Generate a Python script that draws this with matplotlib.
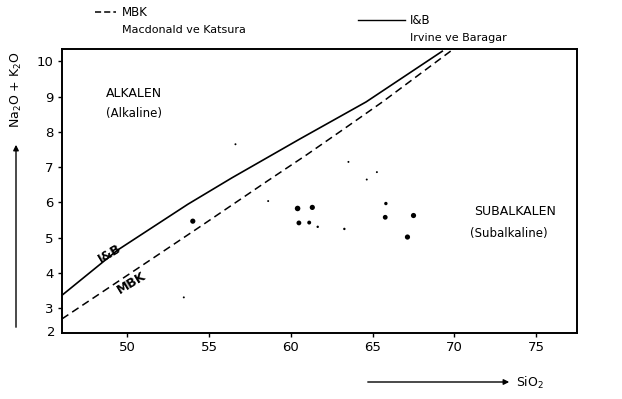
import matplotlib
matplotlib.use("Agg")
import matplotlib.pyplot as plt

# I&B (Irvine ve Baragar) boundary, solid
ib_sio2 = [46.0, 49.4, 53.7, 56.4, 60.55, 64.6, 69.3]
ib_alk = [3.37, 4.65, 5.95, 6.70, 7.80, 8.85, 10.30]

# MBK (Macdonald ve Katsura) boundary, dashed
mbk_sio2 = [46.0, 51.66, 54.4, 58.6, 60.96, 63.2, 65.6, 69.8]
mbk_alk = [2.70, 4.45, 5.30, 6.62, 7.35, 8.07, 8.85, 10.30]

# samples: SiO2, Na2O+K2O, relative dot size
pt_sio2 = [54.0, 60.41, 61.31, 60.49, 61.12, 61.64, 63.27, 65.77, 65.81,
           67.50, 67.13, 58.61, 63.52, 64.64, 65.26, 56.61, 53.45]
pt_alk = [5.47, 5.83, 5.86, 5.42, 5.43, 5.31, 5.25, 5.58, 5.97,
          5.63, 5.02, 6.04, 7.15, 6.65, 6.86, 7.65, 3.31]
pt_size = [14, 16, 14, 12, 8, 3, 3, 12, 6, 14, 14, 2, 2, 2, 2, 2, 2]

x_ticks = [50, 55, 60, 65, 70, 75]
y_ticks = [3, 4, 5, 6, 7, 8, 9, 10]

fig = plt.figure(figsize=(6.22, 3.99), dpi=100)
ax = fig.add_axes([62 / 622, 1 - 333 / 399, (577 - 62) / 622, (333 - 49) / 399])

ax.plot(ib_sio2, ib_alk, color="black", lw=1.2, solid_capstyle="butt")
ax.plot(mbk_sio2, mbk_alk, color="black", lw=1.1, ls=(0, (5, 3)))
ax.scatter(pt_sio2, pt_alk, s=pt_size, color="black", zorder=3, linewidths=0)

ax.set_xlim(46, 77.5)
ax.set_ylim(2.3, 10.35)
ax.set_xticks(x_ticks)
ax.set_yticks(y_ticks)
ax.tick_params(direction="out", length=3, width=1, labelsize=9.5, pad=3)
for s in ax.spines.values():
    s.set_linewidth(1.4)
ax.text(-0.012, 0.0, "2", transform=ax.transAxes, ha="right", va="center", fontsize=9.5)

# region labels
ax.text(50.4, 9.1, "ALKALEN", ha="center", va="center", fontsize=9)
ax.text(50.4, 8.53, "(Alkaline)", ha="center", va="center", fontsize=8.5)
ax.text(73.7, 5.75, "SUBALKALEN", ha="center", va="center", fontsize=9)
ax.text(73.3, 5.13, "(Subalkaline)", ha="center", va="center", fontsize=8.5)

# boundary labels
ax.text(48.9, 4.56, "I&B", ha="center", va="center", fontsize=9, fontweight="bold", rotation=31)
ax.text(50.25, 3.71, "MBK", ha="center", va="center", fontsize=9, fontweight="bold", rotation=31)

# legend on top
fig.add_artist(plt.Line2D([95 / 622, 116 / 622], [1 - 12 / 399, 1 - 12 / 399],
                          color="black", lw=1.1, ls=(0, (4, 2))))
fig.text(122 / 622, 1 - 12 / 399, "MBK", ha="left", va="center", fontsize=8.5)
fig.text(122 / 622, 1 - 30 / 399, "Macdonald ve Katsura", ha="left", va="center", fontsize=8)
fig.add_artist(plt.Line2D([358 / 622, 405 / 622], [1 - 20 / 399, 1 - 20 / 399],
                          color="black", lw=1.0))
fig.text(410 / 622, 1 - 20 / 399, "I&B", ha="left", va="center", fontsize=8.5)
fig.text(410 / 622, 1 - 38 / 399, "Irvine ve Baragar", ha="left", va="center", fontsize=8)

# axis arrows and titles
fig.add_artist(matplotlib.patches.FancyArrowPatch(
    (16 / 622, 1 - 330 / 399), (16 / 622, 1 - 142 / 399),
    transform=fig.transFigure, arrowstyle="-|>", mutation_scale=8, color="black", lw=1.0))
fig.text(16 / 622, 1 - 90 / 399, "Na$_2$O + K$_2$O", rotation=90, ha="center", va="center", fontsize=9)
fig.add_artist(matplotlib.patches.FancyArrowPatch(
    (365 / 622, 1 - 382 / 399), (512 / 622, 1 - 382 / 399),
    transform=fig.transFigure, arrowstyle="-|>", mutation_scale=8, color="black", lw=1.0))
fig.text(516 / 622, 1 - 383 / 399, "SiO$_2$", ha="left", va="center", fontsize=9)

fig.savefig("out.png", dpi=100)
